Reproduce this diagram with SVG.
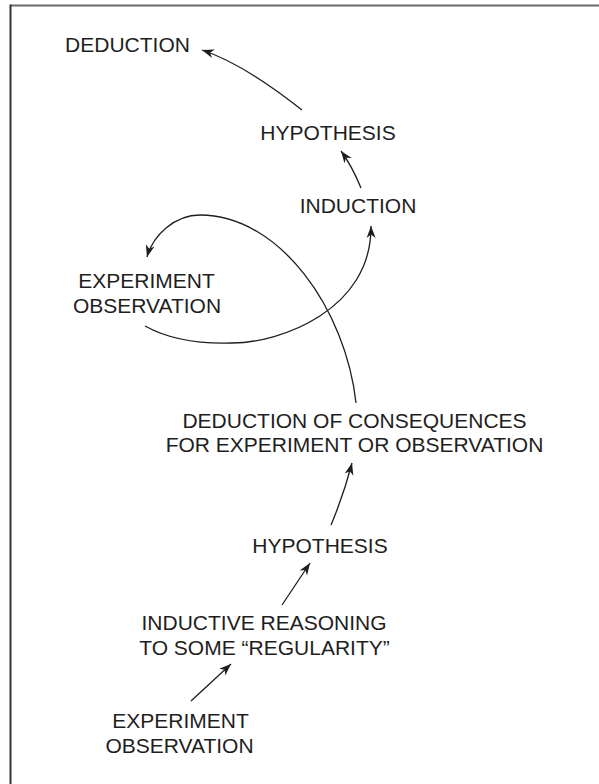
<svg xmlns="http://www.w3.org/2000/svg" width="599" height="784" viewBox="0 0 599 784">
  <style>
    .lbl { font-family: "Liberation Sans", Arial, sans-serif; font-size: 21px; fill: #1e1e1e; text-anchor: middle; }
    .edge { fill: none; stroke: #1e1e1e; stroke-width: 1.3; marker-end: url(#head); }
  </style>
  <defs>
    <marker id="head" markerUnits="userSpaceOnUse" markerWidth="16" markerHeight="12" viewBox="-12 -6 14 12" refX="0" refY="0" orient="auto">
      <path d="M0,0 L-12,-4.5 L-8.5,0 L-12,4.5 Z" fill="#1e1e1e"/>
    </marker>
  </defs>
  <rect width="599" height="784" fill="#ffffff"/>

  <!-- frame -->
  <g id="frame">
    <line x1="11" y1="5.5" x2="599" y2="5.5" stroke="#6a6a6a" stroke-width="2"/>
    <line x1="10.5" y1="4.5" x2="10.5" y2="784" stroke="#333333" stroke-width="2"/>
  </g>

  <!-- connectors -->
  <g id="connectors">
    <path class="edge" d="M302,110 Q244,64 202,50"/>
    <path class="edge" d="M361,188 Q352,166 341,151"/>
    <path class="edge" d="M145,326 C170,340 200,344 232,343 C280,343 372,310 371,226"/>
    <path class="edge" d="M356,403 C346,310 280,215 200,215 C175,215 153,235 147,257"/>
    <path class="edge" d="M331,525 Q344,494 352,463"/>
    <path class="edge" d="M282,605 L310,563"/>
    <path class="edge" d="M191,701 L231,664"/>
  </g>

  <!-- nodes -->
  <g id="deduction-top">
    <text class="lbl" x="127.5" y="52">DEDUCTION</text>
  </g>
  <g id="hypothesis-top">
    <text class="lbl" x="328" y="140">HYPOTHESIS</text>
  </g>
  <g id="induction">
    <text class="lbl" x="358" y="213">INDUCTION</text>
  </g>
  <g id="experiment-mid">
    <text class="lbl" x="146.5" y="288">EXPERIMENT</text>
    <text class="lbl" x="147" y="313">OBSERVATION</text>
  </g>
  <g id="deduction-consequences">
    <text class="lbl" x="354.5" y="428">DEDUCTION OF CONSEQUENCES</text>
    <text class="lbl" x="354.5" y="452">FOR EXPERIMENT OR OBSERVATION</text>
  </g>
  <g id="hypothesis-low">
    <text class="lbl" x="320" y="553">HYPOTHESIS</text>
  </g>
  <g id="inductive-reasoning">
    <text class="lbl" x="264" y="630">INDUCTIVE REASONING</text>
    <text class="lbl" x="264.5" y="655">TO SOME “REGULARITY”</text>
  </g>
  <g id="experiment-low">
    <text class="lbl" x="180.5" y="728">EXPERIMENT</text>
    <text class="lbl" x="179.5" y="753">OBSERVATION</text>
  </g>
</svg>
